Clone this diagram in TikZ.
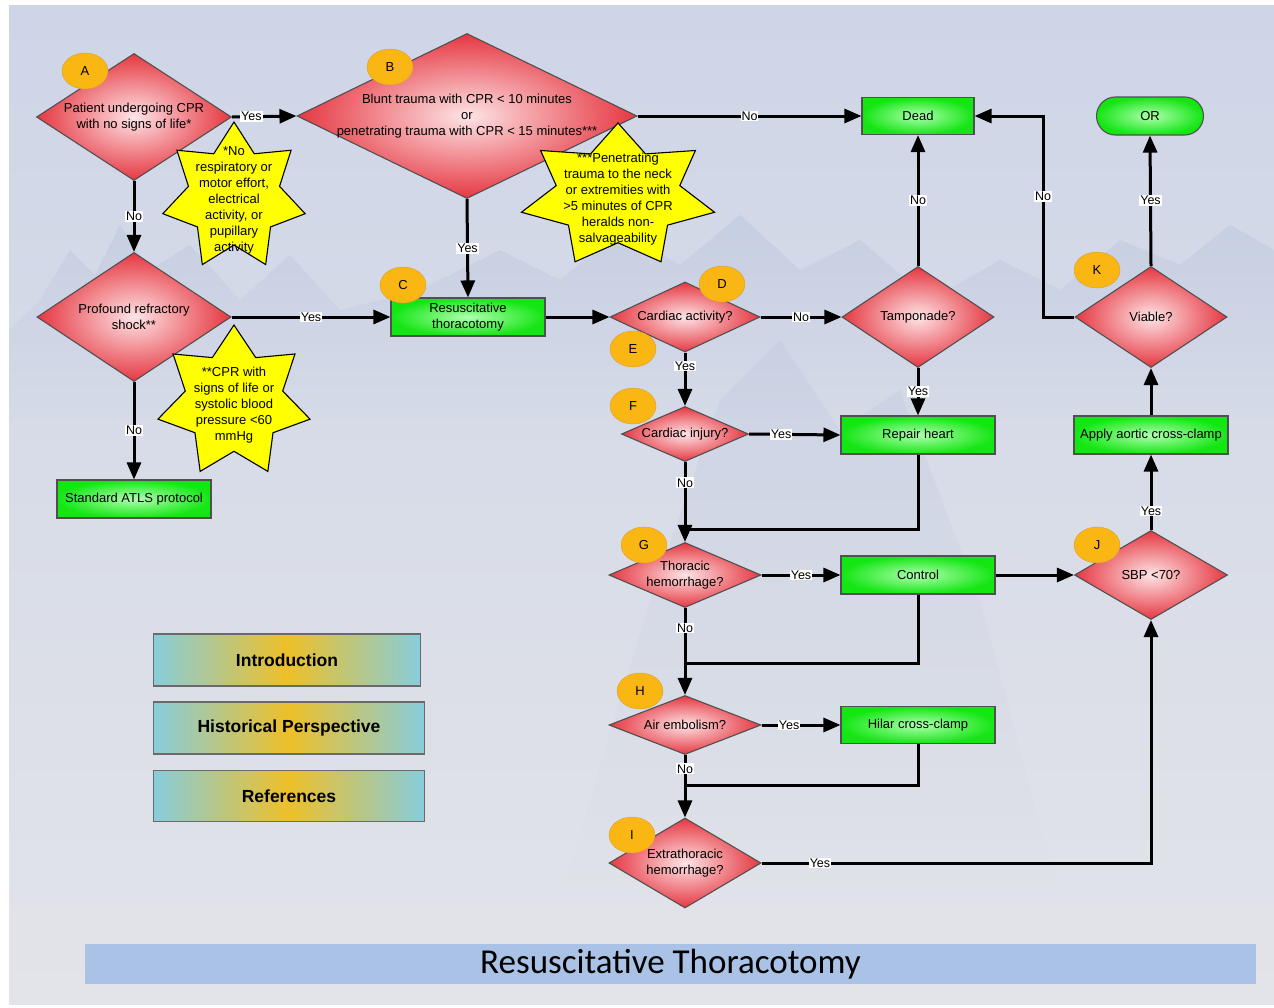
\documentclass[tikz,border=0pt]{standalone}
\usepackage{fontspec}
\setmainfont{Liberation Sans}
\newfontfamily\slidetitlefont{Carlito}
\usetikzlibrary{shapes,arrows.meta,positioning,calc,backgrounds}

\definecolor{slidetop}{RGB}{206,213,231}
\definecolor{slidebot}{RGB}{227,228,233}
\definecolor{mount}{RGB}{190,200,223}
\definecolor{redout}{RGB}{230,55,65}
\definecolor{redin}{RGB}{253,228,230}
\definecolor{greenout}{RGB}{20,230,20}
\definecolor{greenin}{RGB}{175,255,175}
\definecolor{edgegray}{RGB}{80,80,80}
\definecolor{tagfill}{RGB}{250,182,18}
\definecolor{tagedge}{RGB}{215,160,60}
\definecolor{navcyan}{RGB}{135,205,220}
\definecolor{navgold}{RGB}{238,192,40}
\definecolor{titlebar}{RGB}{169,194,230}
\definecolor{staryellow}{RGB}{255,255,0}

\begin{document}
\begin{tikzpicture}[
    x=1pt, y=-1pt,
    decision/.style={diamond, draw=edgegray, line width=1.1pt, inner sep=-40pt, align=center,
        shade, inner color=redin, outer color=redout, font=\fontsize{13}{16}\selectfont},
    action/.style={rectangle, draw=edgegray, line width=1.1pt, inner sep=0pt, align=center,
        minimum width=154pt, minimum height=38pt, shade, inner color=greenin, outer color=greenout,
        font=\fontsize{13}{16}\selectfont},
    tag/.style={ellipse, draw=tagedge, fill=tagfill, minimum width=46pt, minimum height=36pt,
        inner sep=0pt, font=\fontsize{13}{15}\selectfont},
    burst/.style={draw=black, line width=1.1pt, fill=staryellow},
    notetext/.style={align=center, font=\fontsize{13}{16}\selectfont},
    navbtn/.style={rectangle, draw=edgegray!85, line width=1.1pt, minimum height=52pt,
        left color=navcyan, right color=navcyan, middle color=navgold,
        font=\fontsize{17.5}{20}\selectfont\bfseries},
    flow/.style={line width=3pt, -{Triangle[length=17pt,width=14pt]}},
    merge/.style={line width=3pt},
    answer/.style={fill=white, inner sep=1pt, font=\fontsize{12.5}{14}\selectfont},
]
    \useasboundingbox (0,0) rectangle (1274,1007);
    \fill[white] (0,0) rectangle (1274,1007);
    \shade[top color=slidetop, bottom color=slidebot] (9,5) rectangle (1274,1004);
    \shade[top color=mount, bottom color=slidebot!43!slidetop, opacity=0.6]
        (9,430) -- (9,330) -- (40,300) -- (70,250) -- (95,275) -- (120,225) -- (150,270)
        -- (190,245) -- (240,300) -- (290,255) -- (340,310) -- (420,290) -- (500,250)
        -- (560,280) -- (620,230) -- (680,265) -- (740,215) -- (800,270) -- (860,240)
        -- (930,300) -- (1000,260) -- (1060,290) -- (1120,240) -- (1180,265) -- (1230,225)
        -- (1274,250) -- (1274,430) -- cycle;
    \shade[top color=mount, bottom color=slidebot!90!slidetop, opacity=0.4]
        (560,900) -- (650,600) -- (720,400) -- (780,340) -- (840,430) -- (900,390)
        -- (980,600) -- (1060,900) -- cycle;

    \node[decision, minimum width=195pt, minimum height=127pt] (cpr) at (134,117)
        {Patient undergoing CPR\\with no signs of life*};
    \node[decision, minimum width=340pt, minimum height=165pt] (trauma) at (467,116)
        {Blunt trauma with CPR < 10 minutes\\or\\penetrating trauma with CPR < 15 minutes***};
    \node[decision, minimum width=194pt, minimum height=129pt] (shock) at (134,317)
        {Profound refractory\\shock**};
    \node[action] (atls) at (134,499) {Standard ATLS protocol};
    \node[action] (thor) at (468,317) {Resuscitative\\thoracotomy};
    \node[action, minimum width=112pt, minimum height=37pt] (dead) at (918,116) {Dead};
    \node[action, minimum width=107pt, rounded corners=19pt] (orbox) at (1150,116) {OR};

    \node[decision, minimum width=150pt, minimum height=70pt] (cardiac) at (685,317) {Cardiac activity?};
    \node[decision, minimum width=152pt, minimum height=101pt] (tamp) at (918,317) {Tamponade?};
    \node[decision, minimum width=152pt, minimum height=101pt] (viable) at (1151,317) {Viable?};
    \node[decision, minimum width=127pt, minimum height=55pt] (injury) at (685,434) {Cardiac injury?};
    \node[action] (repair) at (918,435) {Repair heart};
    \node[action] (clamp) at (1151,435) {Apply aortic cross-clamp};
    \node[decision, minimum width=152pt, minimum height=65pt] (hemo) at (685,575) {Thoracic\\hemorrhage?};
    \node[action] (control) at (918,575) {Control};
    \node[decision, minimum width=153pt, minimum height=89pt] (sbp) at (1151,575) {SBP <70?};
    \node[decision, minimum width=152pt, minimum height=59pt] (air) at (685,725) {Air embolism?};
    \node[action, minimum height=37pt] (hilar) at (918,725) {Hilar cross-clamp};
    \node[decision, minimum width=152pt, minimum height=90pt] (extra) at (685,863) {Extrathoracic\\hemorrhage?};

    \node[navbtn, minimum width=267pt] (intro) at (287,660) {Introduction};
    \node[navbtn, minimum width=271pt] (history) at (289,728) {Historical Perspective};
    \node[navbtn, minimum width=271pt, minimum height=51pt] (refs) at (289,796) {References};

    \node[fill=titlebar, minimum width=1171pt, minimum height=40pt,
        font=\slidetitlefont\fontsize{35}{40}\selectfont] (title) at (670.5,964) {Resuscitative Thoracotomy};

    \draw[flow] (cpr.east) -- node[answer, pos=0.3] (y1) {Yes} (trauma.west);
    \draw[flow] (cpr.south) -- node[answer] (n1) {No} (shock.north);
    \draw[flow] (trauma.east) -- node[answer] (n2) {No} (dead.west);
    \draw[flow] (trauma.south) -- node[answer] (y2) {Yes} (thor.north);
    \draw[flow] (shock.east) -- node[answer] (y3) {Yes} (thor.west);
    \draw[flow] (shock.south) -- node[answer] (n3) {No} (atls.north);
    \draw[flow] (thor.east) -- (cardiac.west);
    \draw[flow] (cardiac.east) -- node[answer] (n4) {No} (tamp.west);
    \draw[flow] (tamp.north) -- node[answer] (n5) {No} (dead.south);
    \draw[flow] (tamp.south) -- node[answer] (y4) {Yes} (repair.north);
    \draw[flow] (cardiac.south) -- node[answer, pos=0.25] (y5) {Yes} (injury.north);
    \draw[flow] (injury.east) -- node[answer, pos=0.35] (y6) {Yes} (repair.west);
    \draw[flow] (injury.south) -- node[answer, pos=0.26] (n6) {No} (hemo.north);
    \coordinate (m1) at (685,529);
    \draw[merge] (repair.south) |- (m1);
    \draw[flow] (hemo.east) -- node[answer] (y7) {Yes} (control.west);
    \draw[flow] (control.east) -- (sbp.west);
    \draw[flow] (hemo.south) -- node[answer, pos=0.23] (n7) {No} (air.north);
    \coordinate (m2) at (685,663);
    \draw[merge] (control.south) |- (m2);
    \draw[flow] (air.east) -- node[answer, pos=0.35] (y8) {Yes} (hilar.west);
    \draw[flow] (air.south) -- node[answer, pos=0.22] (n8) {No} (extra.north);
    \coordinate (m3) at (685,785);
    \draw[merge] (hilar.south) |- (m3);
    \draw[flow] (extra.east) -| node[answer, pos=0.075] (y9) {Yes} (sbp.south);
    \draw[flow] (sbp.north) -- node[answer, pos=0.25] (y10) {Yes} (clamp.south);
    \draw[flow] (clamp.north) -- (viable.south);
    \draw[flow] (viable.north) -- node[answer] (y11) {Yes} (orbox.south);
    \coordinate (vb) at (1043,317);
    \draw[flow] (viable.west) -- (vb) |- node[answer, pos=0.3] (n9) {No} (dead.east);

    \coordinate (s1) at (234,197);
    \draw[burst, shift={(s1)}] plot[samples at={0,...,13}, variable=\k]
        ({73*(1-0.36*mod(\k,2))*cos(90+25.714*\k)}, {-75*(1-0.36*mod(\k,2))*sin(90+25.714*\k)}) -- cycle;
    \node[notetext] (note1) at (234,200) {*No\\respiratory or\\motor effort,\\electrical\\activity, or\\pupillary\\activity};
    \coordinate (s2) at (234,402);
    \draw[burst, shift={(s2)}] plot[samples at={0,...,13}, variable=\k]
        ({78*(1-0.36*mod(\k,2))*cos(90+25.714*\k)}, {-77*(1-0.36*mod(\k,2))*sin(90+25.714*\k)}) -- cycle;
    \node[notetext] (note2) at (234,405) {**CPR with\\signs of life or\\systolic blood\\pressure <60\\mmHg};
    \coordinate (s3) at (618,196);
    \draw[burst, shift={(s3)}] plot[samples at={0,...,13}, variable=\k]
        ({99*(1-0.36*mod(\k,2))*cos(90+25.714*\k)}, {-73*(1-0.36*mod(\k,2))*sin(90+25.714*\k)}) -- cycle;
    \node[notetext] (note3) at (618,199) {***Penetrating\\trauma to the neck\\or extremities with\\>5 minutes of CPR\\heralds non-\\salvageability};

    \node[tag] (tagA) at (85,71) {A};
    \node[tag] (tagB) at (390,67) {B};
    \node[tag] (tagC) at (403,285) {C};
    \node[tag] (tagD) at (722,284) {D};
    \node[tag] (tagE) at (633,349) {E};
    \node[tag] (tagF) at (633,406) {F};
    \node[tag] (tagG) at (644,545) {G};
    \node[tag] (tagH) at (640,691) {H};
    \node[tag] (tagI) at (632,835) {I};
    \node[tag] (tagJ) at (1097,545) {J};
    \node[tag] (tagK) at (1097,270) {K};
\end{tikzpicture}
\end{document}
